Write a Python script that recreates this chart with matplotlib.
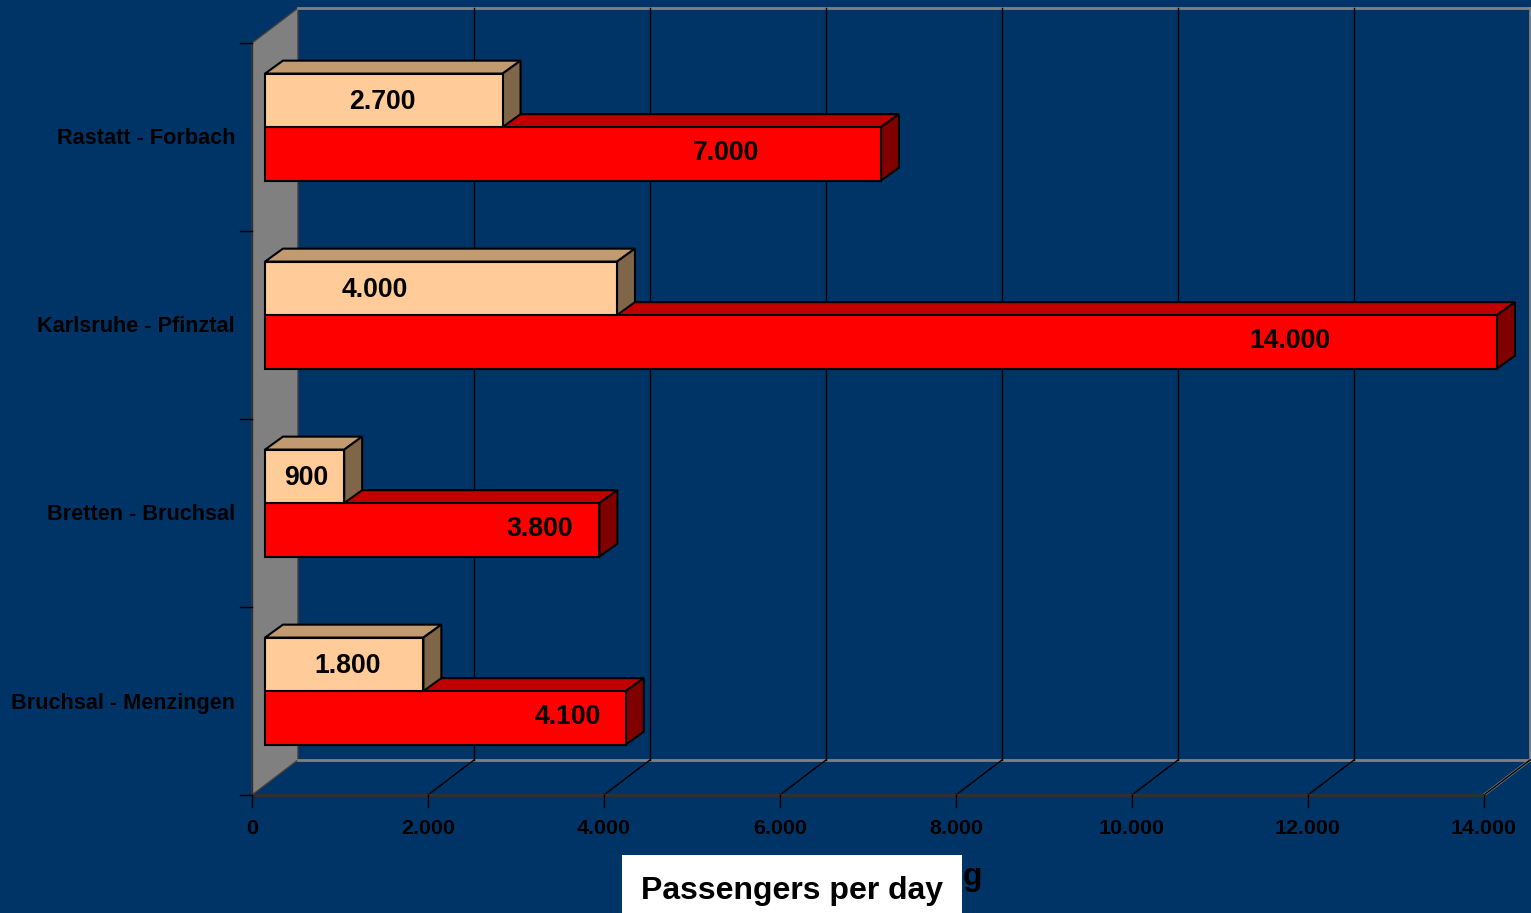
import matplotlib
matplotlib.use('Agg')
import matplotlib.pyplot as plt
from matplotlib.patches import Polygon, Rectangle
import numpy as np

plt.rcParams['font.family'] = ['Liberation Sans', 'DejaVu Sans']

# Data (top to bottom in the picture)
routes = ['Rastatt - Forbach', 'Karlsruhe - Pfinztal', 'Bretten - Bruchsal', 'Bruchsal - Menzingen']
light_values = [2700, 4000, 900, 1800]
red_values = [7000, 14000, 3800, 4100]
x_ticks = [0, 2000, 4000, 6000, 8000, 10000, 12000, 14000]
x_tick_labels = ['0', '2.000', '4.000', '6.000', '8.000', '10.000', '12.000', '14.000']

# where the value labels sit along each bar (data units)
light_label_x = [1330, 1250, 465, 935]
red_label_x = [5240, 11650, 3125, 3440]

BG = '#003366'
W, H = 1531, 913
X0_PX, Y0_PX = 252, 795          # front origin of the plot in pixels
PX_PER_UNIT = 1232 / 14000       # horizontal scale
PX_PER_CAT = 188                 # vertical size of one category

fig = plt.figure(figsize=(W / 100, H / 100), dpi=100, facecolor=BG)
ax = fig.add_axes([0, 0, 1, 1])
ax.set_facecolor(BG)
ax.axis('off')
ax.set_xlim(-X0_PX / PX_PER_UNIT, (W - X0_PX) / PX_PER_UNIT)
ax.set_ylim((Y0_PX - H) / PX_PER_CAT, Y0_PX / PX_PER_CAT)

# 3D depth of the plot box
DX = 46 / PX_PER_UNIT
DY = 35 / PX_PER_CAT
n = len(routes)
xmax = 14000
PY = 1 / PX_PER_CAT  # one pixel in y units

# left side wall
ax.add_patch(Polygon([(0, 0), (DX, DY), (DX, n + DY), (0, n)], closed=True,
                     facecolor='#808080', edgecolor='#404040', lw=1, zorder=1))
# back wall border and floor edges
ax.plot([DX, xmax + DX], [n + DY, n + DY], color='#808080', lw=2, zorder=1)
ax.plot([DX, xmax + DX], [DY, DY], color='#808080', lw=2, zorder=1)
ax.plot([xmax, xmax + DX], [0, DY], color='#808080', lw=2, zorder=1)
ax.plot([xmax + DX, xmax + DX], [DY, n + DY], color='#808080', lw=2, zorder=1)

# grid on back wall and floor
for v in x_ticks[1:-1]:
    ax.plot([v + DX, v + DX], [DY, n + DY], color='black', lw=1, zorder=1)
for v in x_ticks[1:]:
    ax.plot([v, v + DX], [0, DY], color='black', lw=1, zorder=1)

# front axis lines and ticks
ax.plot([0, xmax], [0, 0], color='#303030', lw=2, zorder=2)
ax.plot([0, 0], [0, n], color='#303030', lw=1, zorder=2)
tick_dy = 12 * PY
tick_dx = 12 / PX_PER_UNIT
for v, lab in zip(x_ticks, x_tick_labels):
    ax.plot([v, v], [0, -tick_dy], color='black', lw=1, zorder=2)
    ax.text(v, -33 * PY, lab, ha='center', va='center', fontsize=15.4,
            fontweight='bold', color='black')
for k in range(n + 1):
    ax.plot([-tick_dx, 0], [k, k], color='black', lw=1, zorder=2)


def box(x1, y0, y1, off_x, off_y, dep_x, dep_y, face, top, side):
    edge = dict(edgecolor='black', lw=1.5, zorder=3, joinstyle='miter')
    x0 = off_x
    y0 += off_y
    y1 += off_y
    x1 += off_x
    ax.add_patch(Polygon([(x0, y1), (x1, y1), (x1 + dep_x, y1 + dep_y), (x0 + dep_x, y1 + dep_y)],
                         closed=True, facecolor=top, **edge))
    ax.add_patch(Polygon([(x1, y0), (x1 + dep_x, y0 + dep_y), (x1 + dep_x, y1 + dep_y), (x1, y1)],
                         closed=True, facecolor=side, **edge))
    ax.add_patch(Rectangle((x0, y0), x1 - x0, y1 - y0, facecolor=face, **edge))


bar_h = 53.5 * PY
off_x, off_y = 0.283 * DX, 0.283 * DY
dep_x, dep_y = 0.39 * DX, 0.37 * DY
for i, route in enumerate(routes):
    c = n - 1 - i + 0.5
    box(red_values[i], c - bar_h, c, off_x, off_y, dep_x, dep_y,
        '#ff0000', '#c00000', '#800000')
    box(light_values[i], c, c + bar_h, off_x, off_y, dep_x, dep_y,
        '#ffcc99', '#c19a6f', '#806648')
    ax.text(light_label_x[i] + off_x, c + off_y + bar_h / 2 - 2 * PY,
            f'{light_values[i]:,}'.replace(',', '.'),
            ha='center', va='center', fontsize=19.2, fontweight='bold', color='black', zorder=4)
    ax.text(red_label_x[i] + off_x, c + off_y - bar_h / 2 + 0.5 * PY,
            f'{red_values[i]:,}'.replace(',', '.'),
            ha='center', va='center', fontsize=19.2, fontweight='bold', color='black', zorder=4)
    ax.text(-193, c - 2 * PY, route, ha='right', va='center', fontsize=15.6,
            fontweight='bold', color='black')

# axis title in a white box, partly covering an older label
fig.text(972 / W, 1 - 877 / H, 'g', ha='center', va='center', fontsize=23,
         fontweight='bold', color='black')
fig.patches.append(Rectangle((622 / W, 0), 340 / W, 58 / H, transform=fig.transFigure,
                             facecolor='white', edgecolor='none', zorder=5))
fig.text(792 / W, 1 - 891 / H, 'Passengers per day', ha='center', va='center',
         fontsize=23, fontweight='bold', color='black', zorder=6)

fig.savefig('out.png', dpi=100, facecolor=BG)
